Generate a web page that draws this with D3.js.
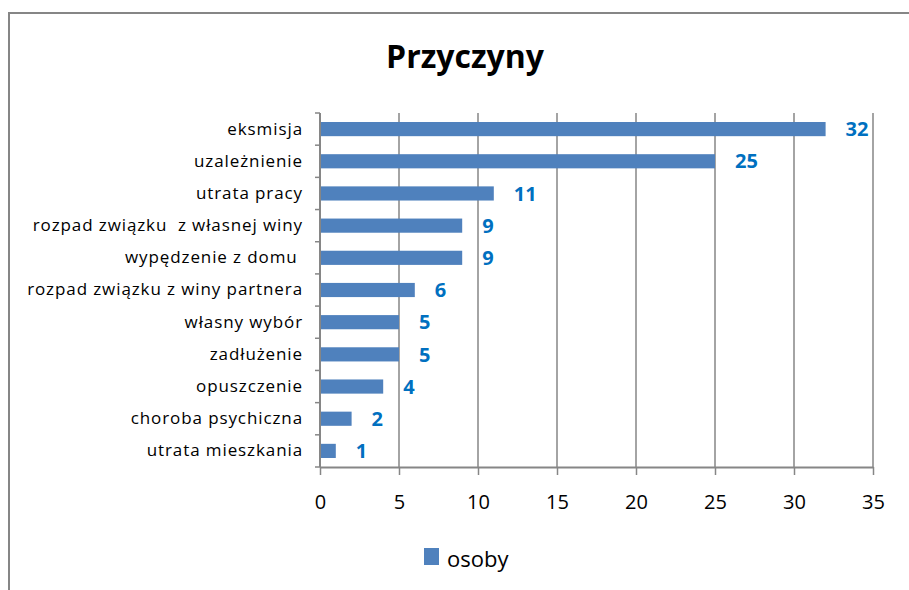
<!DOCTYPE html>
<html><head><meta charset="utf-8">
<script src="https://cdn.jsdelivr.net/npm/d3@7"></script>
<style>html,body{margin:0;padding:0;background:#fff}</style>
</head><body>
<svg id="c" width="909" height="590"></svg>
<script>
const categories = ["eksmisja","uzależnienie","utrata pracy","rozpad związku  z własnej winy","wypędzenie z domu ","rozpad związku z winy partnera","własny wybór","zadłużenie","opuszczenie","choroba psychiczna","utrata mieszkania"];
const values = [32,25,11,9,9,6,5,5,4,2,1];
const xTicks = [0,5,10,15,20,25,30,35];
const seriesName = "osoby";
const title = "Przyczyny";

(function(){
const svg = d3.select("#c");
const font = "'Open Sans', sans-serif";
const grey = "#868686";
const pL = 320, pR = 873, pT = 113, pB = 467;

// outer border
svg.append("path").attr("d","M9,590 V13 H909").attr("fill","none").attr("stroke",grey).attr("stroke-width",2);

const x = d3.scaleLinear().domain([0,35]).range([pL,pR]);
const y = d3.scaleBand().domain(categories).range([pT,pB]).paddingInner(0.56).paddingOuter(0.28);

// gridlines
svg.append("g").selectAll("line").data(xTicks.slice(1)).join("line")
  .attr("x1",d=>x(d)).attr("x2",d=>x(d)).attr("y1",pT).attr("y2",pB)
  .attr("stroke",grey).attr("stroke-width",1.5);

// bars
svg.append("g").selectAll("rect").data(values).join("rect")
  .attr("x",x(0)).attr("y",(d,i)=>y(categories[i]))
  .attr("width",d=>x(d)-x(0)).attr("height",y.bandwidth())
  .attr("fill","#4F81BD");

// x axis
const xa = svg.append("g").attr("transform",`translate(0,${pB})`)
  .call(d3.axisBottom(x).tickValues(xTicks).tickSize(8).tickPadding(20).tickSizeOuter(0));
xa.select(".domain").attr("stroke",grey).attr("stroke-width",2);
xa.selectAll(".tick line").attr("stroke",grey).attr("stroke-width",1.5);
xa.selectAll(".tick text").attr("font-family",font).attr("font-size",20).attr("fill","#000");

// y axis
const ya = svg.append("g").attr("transform",`translate(${pL},0)`)
  .call(d3.axisLeft(y).tickSize(0).tickPadding(17));
ya.select(".domain").attr("stroke",grey).attr("stroke-width",2).attr("d",`M0,${pT}V${pB}`);
ya.selectAll(".tick text").attr("font-family",font).attr("font-size",17)
  .attr("letter-spacing",0.9).attr("fill","#000").style("white-space","pre");
// category boundary ticks
const bounds = d3.range(categories.length+1).map(i=>pT + i*(pB-pT)/categories.length);
svg.append("g").selectAll("line").data(bounds).join("line")
  .attr("x1",pL-5).attr("x2",pL).attr("y1",d=>d).attr("y2",d=>d)
  .attr("stroke",grey).attr("stroke-width",1.5);

// value labels
svg.append("g").selectAll("text").data(values).join("text")
  .attr("x",d=>x(d)+20).attr("y",(d,i)=>y(categories[i])+y.bandwidth()/2)
  .attr("dy","0.36em").attr("font-family",font).attr("font-weight","bold")
  .attr("font-size",20).attr("fill","#0070C0").text(d=>d);

// title
svg.append("text").attr("x",465).attr("y",68).attr("text-anchor","middle")
  .attr("font-family",font).attr("font-weight","bold").attr("font-size",32).attr("fill","#000").text(title);

// legend
svg.append("rect").attr("x",424).attr("y",548).attr("width",15).attr("height",17).attr("fill","#4F81BD");
svg.append("text").attr("x",447).attr("y",567).attr("font-family",font).attr("font-size",22).attr("fill","#000").text(seriesName);
})();
</script>
</body></html>
